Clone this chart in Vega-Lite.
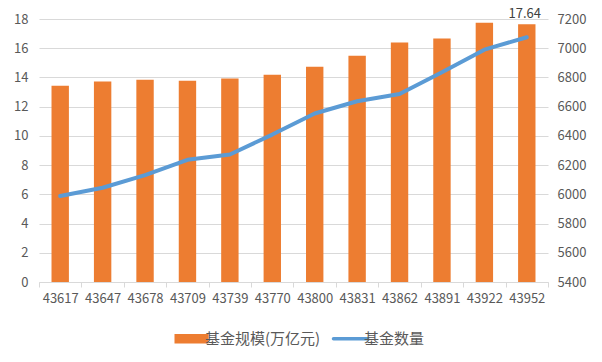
{
  "$schema": "https://vega.github.io/schema/vega-lite/v6.json",
  "width": 509,
  "height": 263,
  "autosize": "none",
  "padding": {"left": 39, "top": 19, "right": 54, "bottom": 80},
  "background": "white",
  "config": {
    "view": {"stroke": null},
    "font": "Noto Sans CJK SC",
    "axis": {"labelFont": "Noto Sans CJK SC", "labelFontSize": 13, "labelColor": "#595959", "titleColor": "#595959"}
  },
  "data": {
    "values": [
      {"date": "43617", "scale": 13.44, "count": 5988},
      {"date": "43647", "scale": 13.72, "count": 6045},
      {"date": "43678", "scale": 13.85, "count": 6131},
      {"date": "43709", "scale": 13.78, "count": 6236},
      {"date": "43739", "scale": 13.92, "count": 6273},
      {"date": "43770", "scale": 14.19, "count": 6409},
      {"date": "43800", "scale": 14.74, "count": 6553},
      {"date": "43831", "scale": 15.49, "count": 6637},
      {"date": "43862", "scale": 16.39, "count": 6687},
      {"date": "43891", "scale": 16.66, "count": 6835},
      {"date": "43922", "scale": 17.75, "count": 6990},
      {"date": "43952", "scale": 17.64, "count": 7075}
    ]
  },
  "encoding": {
    "x": {
      "field": "date",
      "type": "nominal",
      "sort": null,
      "scale": {"paddingInner": 0, "paddingOuter": 0},
      "axis": {
        "title": null,
        "labelAngle": 0,
        "tickBand": "extent",
        "domainColor": "#d9d9d9",
        "tickColor": "#d9d9d9",
        "tickSize": 5,
        "labelPadding": 5,
        "grid": false,
        "labelOverlap": false
      }
    }
  },
  "layer": [
    {
      "encoding": {
        "y": {
          "field": "scale",
          "type": "quantitative",
          "scale": {"domain": [0, 18], "nice": false},
          "axis": {
            "title": null,
            "values": [0, 2, 4, 6, 8, 10, 12, 14, 16, 18],
            "labelOverlap": false,
            "domain": false,
            "ticks": false,
            "labelPadding": 11,
            "gridColor": "#d9d9d9",
            "gridWidth": 1
          }
        }
      },
      "layer": [
        {
          "mark": {"type": "bar", "width": {"band": 0.41}},
          "encoding": {
            "color": {
              "datum": "基金规模(万亿元)",
              "scale": {"domain": ["基金规模(万亿元)", "基金数量"], "range": ["#ED7D31", "#5B9BD5"]},
              "legend": {
                "title": null,
                "orient": "none",
                "direction": "horizontal",
                "legendX": 145,
                "legendY": 312,
                "symbolSize": 1156,
                "symbolType": "M-1,-0.28H1V0.28H-1Z",
                "labelFont": "Noto Sans CJK SC",
                "labelFontSize": 15,
                "labelColor": "#595959",
                "labelOffset": 6,
                "columnPadding": 5,
                "symbolOpacity": 1,
                "encode": {
                  "symbols": {
                    "update": {
                      "shape": {"signal": "datum.label === '基金数量' ? 'M-1,0H1' : 'M-1,-0.28H1V0.28H-1Z'"},
                      "fill": {"signal": "datum.label === '基金数量' ? 'transparent' : '#ED7D31'"},
                      "stroke": {"signal": "datum.label === '基金数量' ? '#5B9BD5' : '#ED7D31'"},
                      "strokeWidth": {"signal": "datum.label === '基金数量' ? 3.5 : 0"},
                      "strokeCap": {"value": "round"},
                      "opacity": {"value": 1}
                    }
                  }
                }
              }
            }
          }
        },
        {
          "transform": [{"filter": "datum.date === '43952'"}],
          "mark": {"type": "text", "baseline": "bottom", "dy": -3, "dx": -2, "fontSize": 13, "font": "Noto Sans CJK SC", "color": "#404040"},
          "encoding": {
            "text": {"field": "scale", "type": "quantitative", "format": ".2f"}
          }
        }
      ]
    },
    {
      "mark": {"type": "line", "strokeWidth": 4, "strokeCap": "round", "strokeJoin": "round"},
      "encoding": {
        "y": {
          "field": "count",
          "type": "quantitative",
          "scale": {"domain": [5400, 7200], "zero": false, "nice": false},
          "axis": {
            "title": null,
            "orient": "right",
            "values": [5400, 5600, 5800, 6000, 6200, 6400, 6600, 6800, 7000, 7200],
            "format": "d",
            "labelOverlap": false,
            "domain": false,
            "ticks": false,
            "grid": false,
            "labelPadding": 9
          }
        },
        "color": {"datum": "基金数量"}
      }
    }
  ],
  "resolve": {"scale": {"y": "independent"}}
}
